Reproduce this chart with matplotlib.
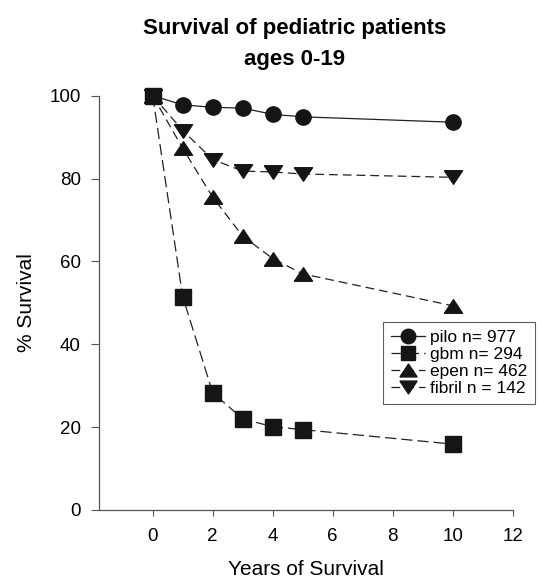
import matplotlib
matplotlib.use("Agg")
import matplotlib.pyplot as plt

plt.rcParams['font.family'] = ['Liberation Sans', 'DejaVu Sans']

years = [0, 1, 2, 3, 4, 5, 10]
pilo = [100, 97.8, 97.2, 97.0, 95.5, 94.9, 93.6]
gbm = [100, 51.5, 28.3, 22.0, 20.1, 19.4, 15.9]
epen = [100, 87.3, 75.5, 66.1, 60.7, 57.0, 49.3]
fibril = [100, 91.6, 84.6, 81.8, 81.6, 81.1, 80.3]

labels = ['pilo n= 977', 'gbm n= 294', 'epen n= 462', 'fibril n = 142']
# wide, flat triangles like the original
tri_up = [(-1, -0.75), (1, -0.75), (0, 0.75), (-1, -0.75)]
tri_down = [(-1, 0.75), (1, 0.75), (0, -0.75), (-1, 0.75)]
markers = ['o', 's', tri_up, tri_down]
sizes = [11, 11.2, 13, 13]
styles = ['-', (0, (9, 4)), (0, (7, 4)), (0, (7, 4))]

fig = plt.figure(figsize=(5.38, 5.8), dpi=100)
ax = fig.add_axes([0.184, 0.1207, 0.769, 0.7143])

for vals, lab, m, s, ls in zip([pilo, gbm, epen, fibril], labels, markers, sizes, styles):
    ax.plot(years, vals, linestyle=ls, color='#222222', linewidth=0.9,
            marker=m, markersize=s, markerfacecolor='#151515',
            markeredgecolor='#151515', label=lab, clip_on=False, zorder=3)

ax.set_xlim(-1.79, 12)
ax.set_ylim(0, 100)
ax.set_xticks([0, 2, 4, 6, 8, 10, 12])
ax.set_yticks([0, 20, 40, 60, 80, 100])
ax.tick_params(labelsize=13.5, width=0.8, color='#555555')
ax.tick_params(axis='x', length=4, pad=9)
ax.tick_params(axis='y', length=6, pad=7)
for side in ['top', 'right']:
    ax.spines[side].set_visible(False)
for side in ['left', 'bottom']:
    ax.spines[side].set_color('#555555')
    ax.spines[side].set_linewidth(0.9)

ax.set_xlabel('Years of Survival', fontsize=15, labelpad=10.5)
ax.set_ylabel('% Survival', fontsize=15, labelpad=10)
fig.text(0.548, 1 - 18 / 580, 'Survival of pediatric patients\nages 0-19',
         fontsize=16, fontweight='bold', ha='center', va='top', linespacing=1.6)

leg = ax.legend(loc='upper left', bbox_to_anchor=(0.686, 0.4545), borderaxespad=0,
                fontsize=12.5, frameon=True, fancybox=False, borderpad=0.45,
                handlelength=2.0, handletextpad=0.25, labelspacing=0.12,
                markerscale=0.95)
leg.get_frame().set_edgecolor('#333333')
leg.get_frame().set_linewidth(0.8)

fig.savefig('out.png', dpi=100)
